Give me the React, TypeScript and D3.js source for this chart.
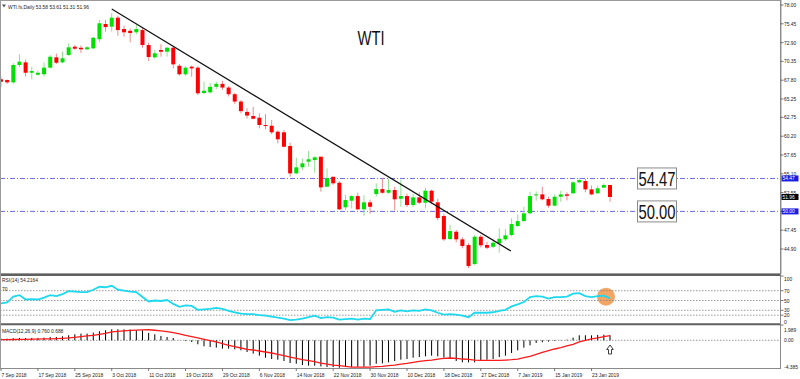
import React from "react";
import * as d3 from "d3";

const opens = [67.92,67.82,67.51,69.86,70.22,68.81,68.54,68.6,69.5,70.9,
70.22,71.22,72.34,72.2,71.99,72.12,73.35,75.42,75.06,76.28,
74.74,74.5,74.3,74.6,72.57,70.9,71.9,71.66,72.2,69.76,
68.6,69.63,69.5,66.06,66.15,66.9,67.3,66.8,65.9,64.9,
63.5,62.94,62.71,61.72,61.62,60.81,60.73,58.87,55.16,55.98,
56.74,56.97,57.42,53.35,54.7,53.89,50.55,51.45,52.08,50.28,
51.23,52.35,53.03,52.53,52.9,51.72,52.08,50.86,51.9,51.18,
52.81,51.23,49.37,46.25,47.24,46.21,45.44,42.86,46.56,45.44,
45.2,45.66,46.21,46.79,48.01,48.69,49.74,52.18,52.31,51.68,
50.78,51.99,52.31,52.45,53.94,54.12,52.99,52.45,53.22,53.58];

const highs = [68.19,67.9,70.1,71.3,70.6,69.6,69.1,70.2,71.2,71.4,
71.67,72.8,72.57,72.5,72.4,73.7,75.96,75.96,76.9,76.55,
75.19,74.8,75.3,74.9,72.9,71.9,72.67,72.3,72.4,70.0,
69.7,69.8,69.7,67.6,67.4,67.6,67.7,67.0,66.1,65.1,
64.0,64.2,63.3,63.2,62.4,61.0,61.04,59.32,57.28,57.2,
58.19,57.5,57.42,55.84,54.7,54.1,52.22,52.2,52.53,52.2,
51.6,53.8,54.49,54.4,53.35,54.25,52.4,52.4,52.6,53.2,
52.95,51.7,49.7,48.2,47.5,46.5,45.7,46.8,46.8,45.9,
46.3,47.7,47.6,49.06,49.6,50.63,52.67,52.7,53.35,52.0,
52.3,52.8,52.6,54.1,54.5,54.4,53.5,53.5,53.8,53.61];

const lows = [66.92,67.3,67.3,69.6,68.3,67.9,68.4,68.3,69.4,70.0,
70.09,71.12,71.9,71.5,71.9,72.0,72.94,74.38,74.38,73.83,
73.7,72.94,74.0,72.2,70.4,70.7,70.99,71.0,69.4,68.4,
68.4,68.27,65.79,65.9,66.0,66.6,66.5,65.6,64.6,63.3,
62.6,62.5,61.27,61.13,60.5,59.23,58.69,54.7,55.03,55.6,
56.06,55.25,52.67,53.3,53.6,50.2,50.2,50.41,50.2,49.41,
49.7,51.99,52.4,52.4,50.1,50.63,50.6,50.6,51.0,50.4,
51.0,48.8,46.0,46.1,45.8,45.0,42.3,42.7,45.1,44.9,
45.0,44.4,46.0,46.6,47.9,48.6,49.6,51.45,51.5,50.5,
50.7,51.3,51.5,52.4,53.8,52.6,52.2,52.4,53.2,51.31];

const closes = [67.6,67.51,69.86,70.31,68.81,69.04,68.81,69.5,70.98,70.17,
70.77,72.26,72.07,71.99,72.26,73.56,75.52,75.0,76.28,74.6,
74.3,74.2,74.74,72.57,70.94,71.45,71.66,72.2,69.95,68.6,
69.5,69.4,66.02,66.37,66.9,67.3,66.8,65.9,64.9,63.6,
63.0,62.57,61.72,61.58,60.73,59.78,58.77,55.16,55.98,56.52,
57.07,57.33,53.26,54.53,53.81,50.28,51.54,52.08,50.28,51.23,
50.63,53.03,52.53,52.9,51.64,52.08,50.86,51.9,51.18,52.81,
51.32,49.1,46.21,47.33,46.21,45.3,42.59,46.56,45.4,45.07,
45.75,46.29,46.75,48.28,48.69,49.74,52.08,52.31,51.64,50.78,
51.99,52.31,52.12,53.94,54.25,52.99,52.31,53.13,53.58,51.96];

const rsiValues = [44,46,58,61,52,53,52,56,61,59,
63,69,68,67,67,72,78,77,80,72,
70,68,67,57,48,50,49,51,43,37,
40,39,31,32,33,35,33,29,26,23,
22,22,20,19,17,15,13,10,11,13,
16,19,14,16,15,11,12,13,11,13,
12,30,31,32,27,30,28,30,29,32,
30,25,21,22,21,19,16,25,25,25,
26,29,31,38,42,47,57,59,58,54,
57,57,58,64,65,59,57,59,60,54.2];

const macdMain = [0.25,0.25,0.3,0.35,0.35,0.35,0.35,0.4,0.5,0.5,
0.6,0.75,0.9,1.0,1.0,1.15,1.35,1.5,1.65,1.65,
1.65,1.6,1.5,1.5,1.1,0.9,0.65,0.5,0.35,-0.02,
-0.1,-0.25,-0.6,-0.9,-1.0,-1.1,-1.25,-1.25,-1.35,-1.5,
-1.75,-2.0,-2.3,-2.6,-2.8,-2.9,-3.1,-3.4,-3.5,-3.7,
-3.8,-3.8,-3.9,-4.0,-4.0,-4.1,-4.0,-4.0,-3.95,-3.95,
-3.8,-3.5,-3.45,-3.3,-3.1,-2.9,-2.8,-2.6,-2.5,-2.4,
-2.3,-2.4,-2.6,-2.8,-3.1,-3.3,-3.3,-3.3,-3.1,-2.9,
-2.8,-2.5,-2.3,-1.9,-1.5,-1.1,-0.75,-0.4,-0.3,-0.2,
-0.1,0.05,0.1,0.4,0.75,0.75,0.75,0.8,0.85,0.76];

const macdSignal = [0.1,0.1,0.12,0.13,0.15,0.17,0.18,0.2,0.22,0.25,
0.3,0.35,0.45,0.55,0.65,0.75,0.9,1.05,1.25,1.33,
1.4,1.47,1.52,1.57,1.58,1.5,1.42,1.3,1.15,0.95,
0.75,0.55,0.35,0.15,-0.05,-0.25,-0.5,-0.75,-0.95,-1.15,
-1.35,-1.45,-1.6,-1.75,-1.9,-2.1,-2.3,-2.5,-2.7,-2.9,
-3.05,-3.2,-3.4,-3.55,-3.7,-3.8,-3.9,-4.0,-4.0,-4.0,
-4.0,-3.95,-3.9,-3.8,-3.7,-3.55,-3.45,-3.3,-3.15,-3.05,
-2.95,-2.8,-2.7,-2.65,-2.7,-2.8,-2.85,-2.95,-3.0,-3.0,
-3.0,-3.0,-2.95,-2.9,-2.8,-2.6,-2.4,-2.1,-1.8,-1.55,
-1.3,-1.1,-0.85,-0.6,-0.25,0.0,0.2,0.35,0.55,0.69];

const dateLabels = ["7 Sep 2018","17 Sep 2018","25 Sep 2018","3 Oct 2018","11 Oct 2018","19 Oct 2018","29 Oct 2018","6 Nov 2018","14 Nov 2018","22 Nov 2018","30 Nov 2018","10 Dec 2018","18 Dec 2018","27 Dec 2018","7 Jan 2019","15 Jan 2019","23 Jan 2019"];
const dateLabelIndex = [0,6,12,18,24,30,36,42,48,54,60,66,72,78,84,90,96];
const priceTicks = [78.0,75.45,72.9,70.35,67.8,65.25,62.75,60.2,57.65,55.1,52.55,50.0,47.45,44.9];
const rsiTicks = [100,70,50,30,20,0];
const rsiLevels = [70,50,30,20];
const macdTicks = [1.989,0,-4.385];
const levelLines = [54.47,50.0];
const lastClose = 51.96;
const trendStart = { i: 18, p: 77.46 };
const trendEnd = { i: 82.9, p: 44.62 };
const headerText = "WTI.fs,Daily 53.58 53.61 51.31 51.96";
const rsiText = "RSI(14) 54.2164";
const macdText = "MACD(12,26,9) 0.760 0.688";
const title = "WTI";

const FONT = "'Liberation Sans', Arial, sans-serif";
const SX = 0.82;

function T({ x, y, size = 6, fill = "#222", anchor = "start", sx = SX, children }: any) {
  return (
    <text transform={`translate(${x},${y}) scale(${sx},1)`} fontSize={size} fontFamily={FONT} fill={fill} textAnchor={anchor}>
      {children}
    </text>
  );
}

export default function App() {
  const plotRight = 780.5;
  const x = d3.scaleLinear().domain([0, 99]).range([1, 610]);
  const y = d3.scaleLinear().domain([78, 44.9]).range([5, 249]);
  const yR = d3.scaleLinear().domain([0, 100]).range([325, 276]);
  const yM = d3.scaleLinear().domain([0, 1.989]).range([340.3, 327]);

  const rsiPath = d3.line<number>().x((_, i) => x(i)).y((d) => yR(d))(rsiValues) || "";
  const sigPath = d3.line<number>().x((_, i) => x(i)).y((d) => yM(d))(macdSignal) || "";

  const G = "#00e000", R = "#ff0000", GW = "#8fe08f", RW = "#f08a8a";
  const lvlColor = "#6b6be0";

  const ax = x(99) - 3.3, ay = 345;
  const arrow = `M${ax + 3.3},${ay} L${ax + 6.6},${ay + 4.5} L${ax + 4.8},${ay + 4.5} L${ax + 4.8},${ay + 9} L${ax + 1.8},${ay + 9} L${ax + 1.8},${ay + 4.5} L${ax},${ay + 4.5} Z`;

  return (
    <svg width={800} height={379} style={{ position: "absolute", left: 0, top: 0, background: "#fff" }}>
      <defs>
        <clipPath id="main"><rect x={0} y={1} width={plotRight} height={272} /></clipPath>
        <clipPath id="rsi"><rect x={0} y={276} width={plotRight} height={48} /></clipPath>
        <clipPath id="macd"><rect x={0} y={325.5} width={plotRight} height={43} /></clipPath>
      </defs>
      <rect x={0} y={0} width={800} height={379} fill="#fff" />

      {/* main panel */}
      <g clipPath="url(#main)">
        {levelLines.map((v) => (
          <line key={v} x1={0} x2={plotRight} y1={y(v)} y2={y(v)} stroke={lvlColor} strokeWidth={1} strokeDasharray="5 2 1 2" />
        ))}
        {opens.map((o, i) => {
          const c = closes[i];
          const up = c >= o;
          const cx = x(i);
          const top = y(Math.max(o, c));
          const bot = y(Math.min(o, c));
          return (
            <g key={i}>
              <line x1={cx} x2={cx} y1={y(highs[i])} y2={y(lows[i])} stroke={up ? GW : RW} strokeWidth={1} />
              <rect x={cx - 2} y={top} width={4} height={Math.max(1, bot - top)} fill={up ? G : R} />
            </g>
          );
        })}
        <line x1={x(trendStart.i)} y1={y(trendStart.p)} x2={x(trendEnd.i)} y2={y(trendEnd.p)} stroke="#111" strokeWidth={1.2} />
      </g>

      {/* annotation boxes */}
      {levelLines.map((v) => (
        <g key={"b" + v}>
          <rect x={637.5} y={y(v) - 10.5} width={39} height={21} fill="#fff" stroke="#8a8a8a" strokeWidth={1} />
          <T x={657} y={y(v) + 7.5} size={20} fill="#111" anchor="middle" sx={0.74}>{v.toFixed(2)}</T>
        </g>
      ))}
      <T x={371} y={45} size={20} fill="#111" anchor="middle" sx={0.74}>{title}</T>

      {/* header */}
      <path d="M2,4.5 L6,4.5 L4,7.5 Z" fill="#555" />
      <T x={8} y={8.5}>{headerText}</T>

      {/* RSI */}
      <circle cx={606} cy={296.7} r={9} fill="#f0964a" opacity={0.85} />
      <g clipPath="url(#rsi)">
        {rsiLevels.map((v) => (
          <line key={v} x1={0} x2={plotRight} y1={yR(v)} y2={yR(v)} stroke="#808080" strokeWidth={0.8} strokeDasharray="1.5 1.5" />
        ))}
        <path d={rsiPath} fill="none" stroke="#1ed8ee" strokeWidth={1.8} />
      </g>
      <T x={2} y={281.5}>{rsiText}</T>
      <T x={2} y={290.5}>70</T>

      {/* MACD */}
      <g clipPath="url(#macd)">
        <line x1={0} x2={plotRight} y1={yM(0)} y2={yM(0)} stroke="#808080" strokeWidth={0.8} strokeDasharray="1.5 1.5" />
        {macdMain.map((v, i) => (
          <line key={i} x1={x(i)} x2={x(i)} y1={yM(0)} y2={yM(v)} stroke="#000" strokeWidth={1} />
        ))}
        <path d={sigPath} fill="none" stroke="#ff1a1a" strokeWidth={1.3} />
      </g>
      <path d={arrow} fill="#fff" stroke="#111" strokeWidth={0.8} />
      <T x={2} y={332.5}>{macdText}</T>

      {/* frames */}
      <rect x={0.5} y={0.5} width={plotRight} height={273} fill="none" stroke="#9a9a9a" strokeWidth={1} />
      <line x1={0} x2={plotRight} y1={275} y2={275} stroke="#606060" strokeWidth={2} />
      <line x1={0} x2={plotRight} y1={324.3} y2={324.3} stroke="#606060" strokeWidth={2} />
      <line x1={0} x2={plotRight} y1={368.5} y2={368.5} stroke="#8a8a8a" strokeWidth={1} />
      <line x1={0.5} x2={0.5} y1={0} y2={369} stroke="#9a9a9a" strokeWidth={1} />
      <line x1={plotRight} x2={plotRight} y1={0} y2={369} stroke="#8a8a8a" strokeWidth={1} />

      {/* right axis: price */}
      {priceTicks.map((v) => (
        <g key={v}>
          <line x1={plotRight} x2={plotRight + 3} y1={y(v)} y2={y(v)} stroke="#555" strokeWidth={0.8} />
          <T x={784} y={y(v) + 2}>{v.toFixed(2)}</T>
        </g>
      ))}
      {levelLines.map((v) => (
        <g key={"ax" + v}>
          <rect x={781.5} y={y(v) - 3} width={17} height={6} fill="#1c1ce6" />
          <T x={782.5} y={y(v) + 2} fill="#fff">{v.toFixed(2)}</T>
        </g>
      ))}
      <rect x={781.5} y={y(lastClose) - 3} width={17} height={6} fill="#000" />
      <T x={782.5} y={y(lastClose) + 2} fill="#fff">{lastClose.toFixed(2)}</T>

      {/* right axis: RSI */}
      {rsiTicks.map((v) => (
        <g key={"r" + v}>
          <line x1={plotRight} x2={plotRight + 3} y1={yR(v)} y2={yR(v)} stroke="#555" strokeWidth={0.8} />
          <T x={784} y={Math.min(Math.max(yR(v) + 2, 281), 323.5)}>{String(v)}</T>
        </g>
      ))}

      {/* right axis: MACD */}
      {macdTicks.map((v) => (
        <g key={"m" + v}>
          <T x={784} y={Math.min(Math.max(yM(v) + 2, 332), 368.5)}>{v === 0 ? "0.00" : v.toFixed(3)}</T>
        </g>
      ))}

      {/* x axis */}
      {dateLabels.map((s, k) => (
        <g key={s}>
          <line x1={x(dateLabelIndex[k])} x2={x(dateLabelIndex[k])} y1={368.5} y2={371} stroke="#555" strokeWidth={0.8} />
          <T x={x(dateLabelIndex[k]) + 0.5} y={376.5}>{s}</T>
        </g>
      ))}
    </svg>
  );
}
